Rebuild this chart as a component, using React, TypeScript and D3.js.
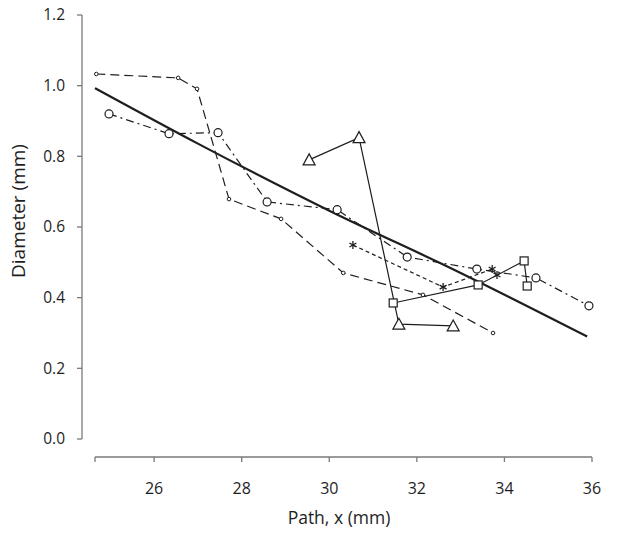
import React from "react";
import * as d3 from "d3";

const xTicks = [26, 28, 30, 32, 34, 36];
const yTicks = [0, 0.2, 0.4, 0.6, 0.8, 1.0, 1.2];

// Series 1: small dots, long-dashed
const s1x = [24.68, 26.55, 26.98, 27.71, 28.9, 30.32, 32.14, 33.74];
const s1y = [1.033, 1.022, 0.991, 0.679, 0.623, 0.47, 0.408, 0.3];
// Series 2: open circles, dash-dot
const s2x = [24.97, 26.34, 27.46, 28.58, 30.18, 31.78, 33.37, 34.72, 35.93];
const s2y = [0.92, 0.864, 0.867, 0.671, 0.649, 0.515, 0.481, 0.456, 0.377];
// Series 3: triangles, solid
const s3x = [29.54, 30.68, 31.59, 32.83];
const s3y = [0.79, 0.853, 0.325, 0.32];
// Series 4: squares, solid
const s4x = [31.46, 33.4, 34.45, 34.52];
const s4y = [0.385, 0.436, 0.504, 0.433];
// Series 5: asterisks, short dashes
const s5x = [30.54, 32.6, 33.72, 33.83];
const s5y = [0.549, 0.43, 0.481, 0.464];
// Fitted curve
const fitX = [24.65, 27, 30, 33, 35.89];
const fitY = [0.993, 0.836, 0.646, 0.47, 0.29];

const W = 624;
const H = 535;
const ink = "#1e1e1e";
const axisColor = "#7a7a7a";
const font = "'Open Sans', 'Noto Sans', sans-serif";

const x = d3.scaleLinear().domain([24.65, 36]).range([95, 592]);
const y = d3.scaleLinear().domain([0, 1.2]).range([439, 15]);

const zip = (xs: number[], ys: number[]) => xs.map((v, i) => [v, ys[i]] as [number, number]);

const lineGen = d3
  .line<[number, number]>()
  .x((d) => x(d[0]))
  .y((d) => y(d[1]));
const fitGen = d3
  .line<[number, number]>()
  .x((d) => x(d[0]))
  .y((d) => y(d[1]))
  .curve(d3.curveMonotoneX);

const Triangle = ({ cx, cy }: { cx: number; cy: number }) => {
  const w = 12;
  const h = 10;
  return (
    <path
      d={`M${cx},${cy - h / 2 - 1}L${cx + w / 2},${cy + h / 2}L${cx - w / 2},${cy + h / 2}Z`}
      fill="white"
      stroke={ink}
      strokeWidth={1.2}
    />
  );
};

const Square = ({ cx, cy }: { cx: number; cy: number }) => {
  const s = 8;
  return <rect x={cx - s / 2} y={cy - s / 2} width={s} height={s} fill="white" stroke={ink} strokeWidth={1.2} />;
};

const Asterisk = ({ cx, cy }: { cx: number; cy: number }) => {
  const r = 4;
  const angles = [90, 30, 150];
  return (
    <g stroke={ink} strokeWidth={1.3}>
      {angles.map((a) => {
        const rad = (a * Math.PI) / 180;
        const dx = r * Math.cos(rad);
        const dy = r * Math.sin(rad);
        return <line key={a} x1={cx - dx} y1={cy - dy} x2={cx + dx} y2={cy + dy} />;
      })}
    </g>
  );
};

export default function App() {
  const p1 = zip(s1x, s1y);
  const p2 = zip(s2x, s2y);
  const p3 = zip(s3x, s3y);
  const p4 = zip(s4x, s4y);
  const p5 = zip(s5x, s5y);
  const pf = zip(fitX, fitY);
  const [x0, x1] = x.range();
  const [y0, y1] = y.range();
  const xAxisY = 457;
  const yAxisX = 82;
  return (
    <svg
      width={W}
      height={H}
      style={{ position: "absolute", left: 0, top: 0, background: "white" }}
      fontFamily={font}
    >
      {/* Y axis */}
      <g>
        <line x1={yAxisX} x2={yAxisX} y1={y1} y2={y0} stroke={axisColor} strokeWidth={1.3} />
        {yTicks.map((t) => (
          <g key={t} transform={`translate(0,${y(t)})`}>
            <line x1={yAxisX - 5} x2={yAxisX} stroke={axisColor} strokeWidth={1.3} />
            <text x={65} dy="0.35em" textAnchor="end" fontSize={15.5} fill={ink}>
              {t.toFixed(1)}
            </text>
          </g>
        ))}
        <text
          transform={`translate(25,211) rotate(-90)`}
          textAnchor="middle"
          fontSize={19}
          fill={ink}
        >
          Diameter (mm)
        </text>
      </g>
      {/* X axis */}
      <g>
        <line x1={x0} x2={x1} y1={xAxisY} y2={xAxisY} stroke={axisColor} strokeWidth={1.3} />
        <line x1={x0} x2={x0} y1={xAxisY} y2={xAxisY + 5} stroke={axisColor} strokeWidth={1.3} />
        {xTicks.map((t) => (
          <g key={t} transform={`translate(${x(t)},0)`}>
            <line y1={xAxisY} y2={xAxisY + 5} stroke={axisColor} strokeWidth={1.3} />
            <text y={494} textAnchor="middle" fontSize={16} fill={ink}>
              {t}
            </text>
          </g>
        ))}
        <text x={339} y={524} textAnchor="middle" fontSize={17.5} fill={ink}>
          Path, x (mm)
        </text>
      </g>

      {/* Lines */}
      <path d={lineGen(p1) || ""} fill="none" stroke={ink} strokeWidth={1.2} strokeDasharray="9,5" />
      <path d={lineGen(p2) || ""} fill="none" stroke={ink} strokeWidth={1.2} strokeDasharray="8,4,2,4" />
      <path d={lineGen(p3) || ""} fill="none" stroke={ink} strokeWidth={1.2} />
      <path d={lineGen(p4) || ""} fill="none" stroke={ink} strokeWidth={1.2} />
      <path d={lineGen(p5) || ""} fill="none" stroke={ink} strokeWidth={1.2} strokeDasharray="4,3" />
      <path d={fitGen(pf) || ""} fill="none" stroke={ink} strokeWidth={2.2} />

      {/* Markers */}
      {p1.map((d, i) => (
        <circle key={`a${i}`} cx={x(d[0])} cy={y(d[1])} r={1.8} fill="white" stroke={ink} strokeWidth={1} />
      ))}
      {p2.map((d, i) => (
        <circle key={`b${i}`} cx={x(d[0])} cy={y(d[1])} r={4} fill="white" stroke={ink} strokeWidth={1.2} />
      ))}
      {p3.map((d, i) => (
        <Triangle key={`c${i}`} cx={x(d[0])} cy={y(d[1])} />
      ))}
      {p4.map((d, i) => (
        <Square key={`d${i}`} cx={x(d[0])} cy={y(d[1])} />
      ))}
      {p5.map((d, i) => (
        <Asterisk key={`e${i}`} cx={x(d[0])} cy={y(d[1])} />
      ))}
    </svg>
  );
}
